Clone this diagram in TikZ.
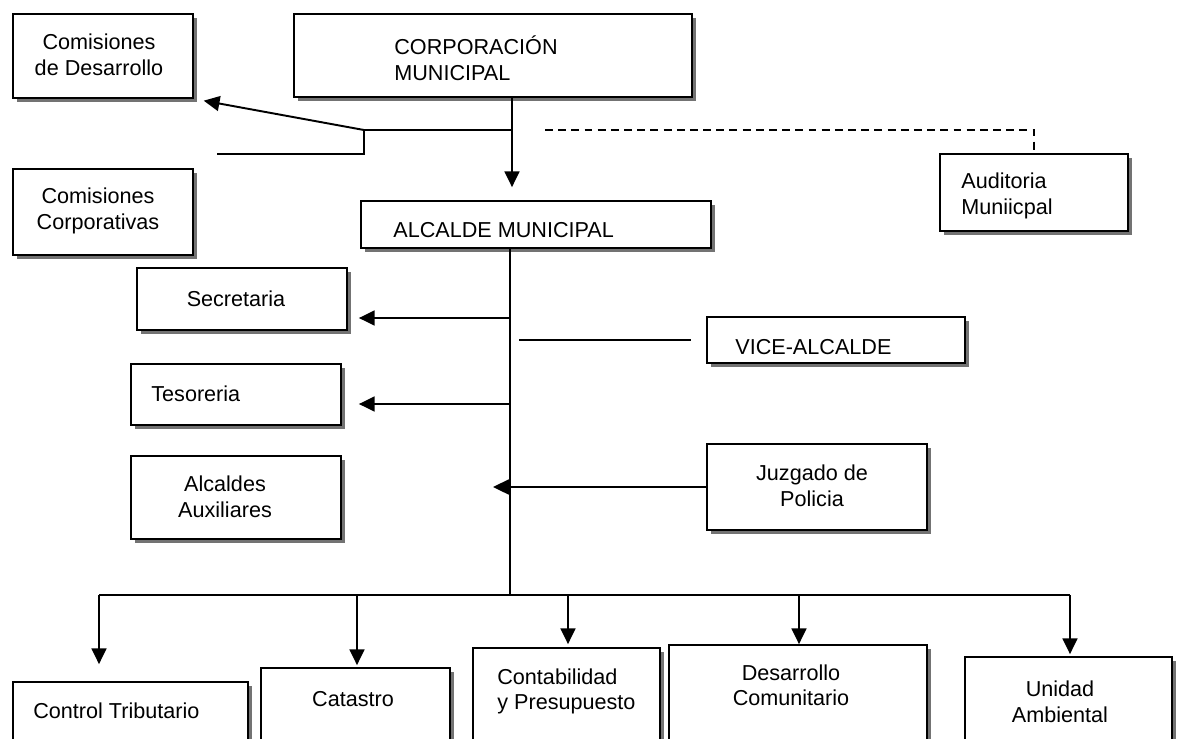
\documentclass[tikz,border=0pt]{standalone}
\usepackage{fontspec}
\setmainfont{Liberation Sans}
\usetikzlibrary{calc,arrows.meta,shadows}
\tikzset{
  box/.style={draw, line width=1pt, fill=white, inner sep=0pt,
    drop shadow={shadow xshift=2pt, shadow yshift=-2pt, fill=black!55, opacity=1}},
  sz/.style 2 args={minimum width=#1*0.02cm, minimum height=#2*0.02cm},
  txt/.style={font=\fontsize{12.3}{14.5}\selectfont, inner sep=0pt, align=center},
  lft/.style={txt, align=left, anchor=west},
  ln/.style={line width=1.1pt},
  arr/.style={line width=1.1pt, -{Triangle[width=8.5pt,length=9pt]}}
}

\begin{document}
\begin{tikzpicture}[x=0.02cm, y=-0.02cm]
\path [use as bounding box, fill=white] (0,0) rectangle (1177,738);

\node [box, sz={180}{84}] (comdes) at (103,56) {};
\node [box, sz={398}{83}] (corp) at (493,55.5) {};
\node [box, sz={180}{86}] (comcorp) at (103,212) {};
\node [box, sz={188}{77}] (aud) at (1034,192.5) {};
\node [box, sz={350}{47}] (alc) at (536,224.5) {};
\node [box, sz={210}{62}] (sec) at (242,299) {};
\node [box, sz={258}{46}] (vice) at (836,340) {};
\node [box, sz={210}{61}] (tes) at (236,394.5) {};
\node [box, sz={210}{83}] (aux) at (236,497.5) {};
\node [box, sz={220}{86}] (juz) at (817,487) {};
\node [box, sz={235}{78}] (ctrl) at (130.5,721) {};
\node [box, sz={189}{92}] (cat) at (355.5,714) {};
\node [box, sz={187}{112}] (cont) at (566.5,704) {};
\node [box, sz={258}{115}] (des) at (798,702.5) {};
\node [box, sz={207}{103}] (uni) at (1068.5,708.5) {};

\node [txt] (comdes-t) at (99,55) {Comisiones\\de Desarrollo};
\node [lft] (corp-t) at (394,58) {CORPORACIÓN\\MUNICIPAL};
\node [txt] (comcorp-t) at (98,211) {Comisiones\\Corporativas};
\node [lft] (aud-t) at (961,196) {Auditoria\\Muniicpal};
\node [lft] (alc-t) at (393,230) {ALCALDE MUNICIPAL};
\node [txt] (sec-t) at (236,299) {Secretaria};
\node [lft] (vice-t) at (735,347) {VICE-ALCALDE};
\node [lft] (tes-t) at (151,394) {Tesoreria};
\node [txt] (aux-t) at (225,497) {Alcaldes\\Auxiliares};
\node [txt] (juz-t) at (812,486) {Juzgado de\\Policia};
\node [lft] (ctrl-t) at (33,711) {Control Tributario};
\node [txt] (cat-t) at (353,699) {Catastro};
\node [lft] (cont-t) at (497,691.5) {Contabilidad\\y Presupuesto};
\node [txt] (des-t) at (791,685.5) {Desarrollo\\Comunitario};
\node [txt] (uni-t) at (1060,702) {Unidad\\Ambiental};

\coordinate (j1) at (512,130);
\coordinate (j2) at (364,130);
\coordinate (j3) at (217,154);
\coordinate (d1) at (545,130);
\draw [arr, shorten >=0.26cm] (corp.south -| j1) -- (alc.north -| j1);
\draw [ln] (j1) -- (j2) -- (j2 |- j3) -- (j3);
\draw [arr, shorten >=0.2cm] (j2) -- (comdes.south east);
\draw [line width=0.8pt, dash pattern=on 4.5pt off 3pt] (d1) -| (aud.north);

\coordinate (s0) at (510,248);
\coordinate (s1) at (510,595);
\coordinate (a1) at (510,318);
\coordinate (a2) at (510,404);
\coordinate (a3) at (493,487);
\coordinate (v1) at (519,340);
\draw [ln] (s0) -- (s1);
\draw [arr, shorten >=0.22cm] (a1) -- (a1 -| sec.east);
\draw [arr, shorten >=0.34cm] (a2) -- (a2 -| tes.east);
\draw [ln] (v1) -- ([xshift=-0.3cm]vice.west);
\draw [arr] (juz.west) -- (a3);

\foreach \n/\x/\s in {ctrl/99/0.34cm, cat/357/0.04cm, cont/568/0.06cm, des/799/0cm, uni/1070/0.04cm}{
  \coordinate (b\n) at (\x,595);
  \draw [arr, shorten >=\s] (b\n) -- (b\n |- \n.north);
}
\draw [ln] (bctrl) -- (buni);
\end{tikzpicture}
\end{document}
